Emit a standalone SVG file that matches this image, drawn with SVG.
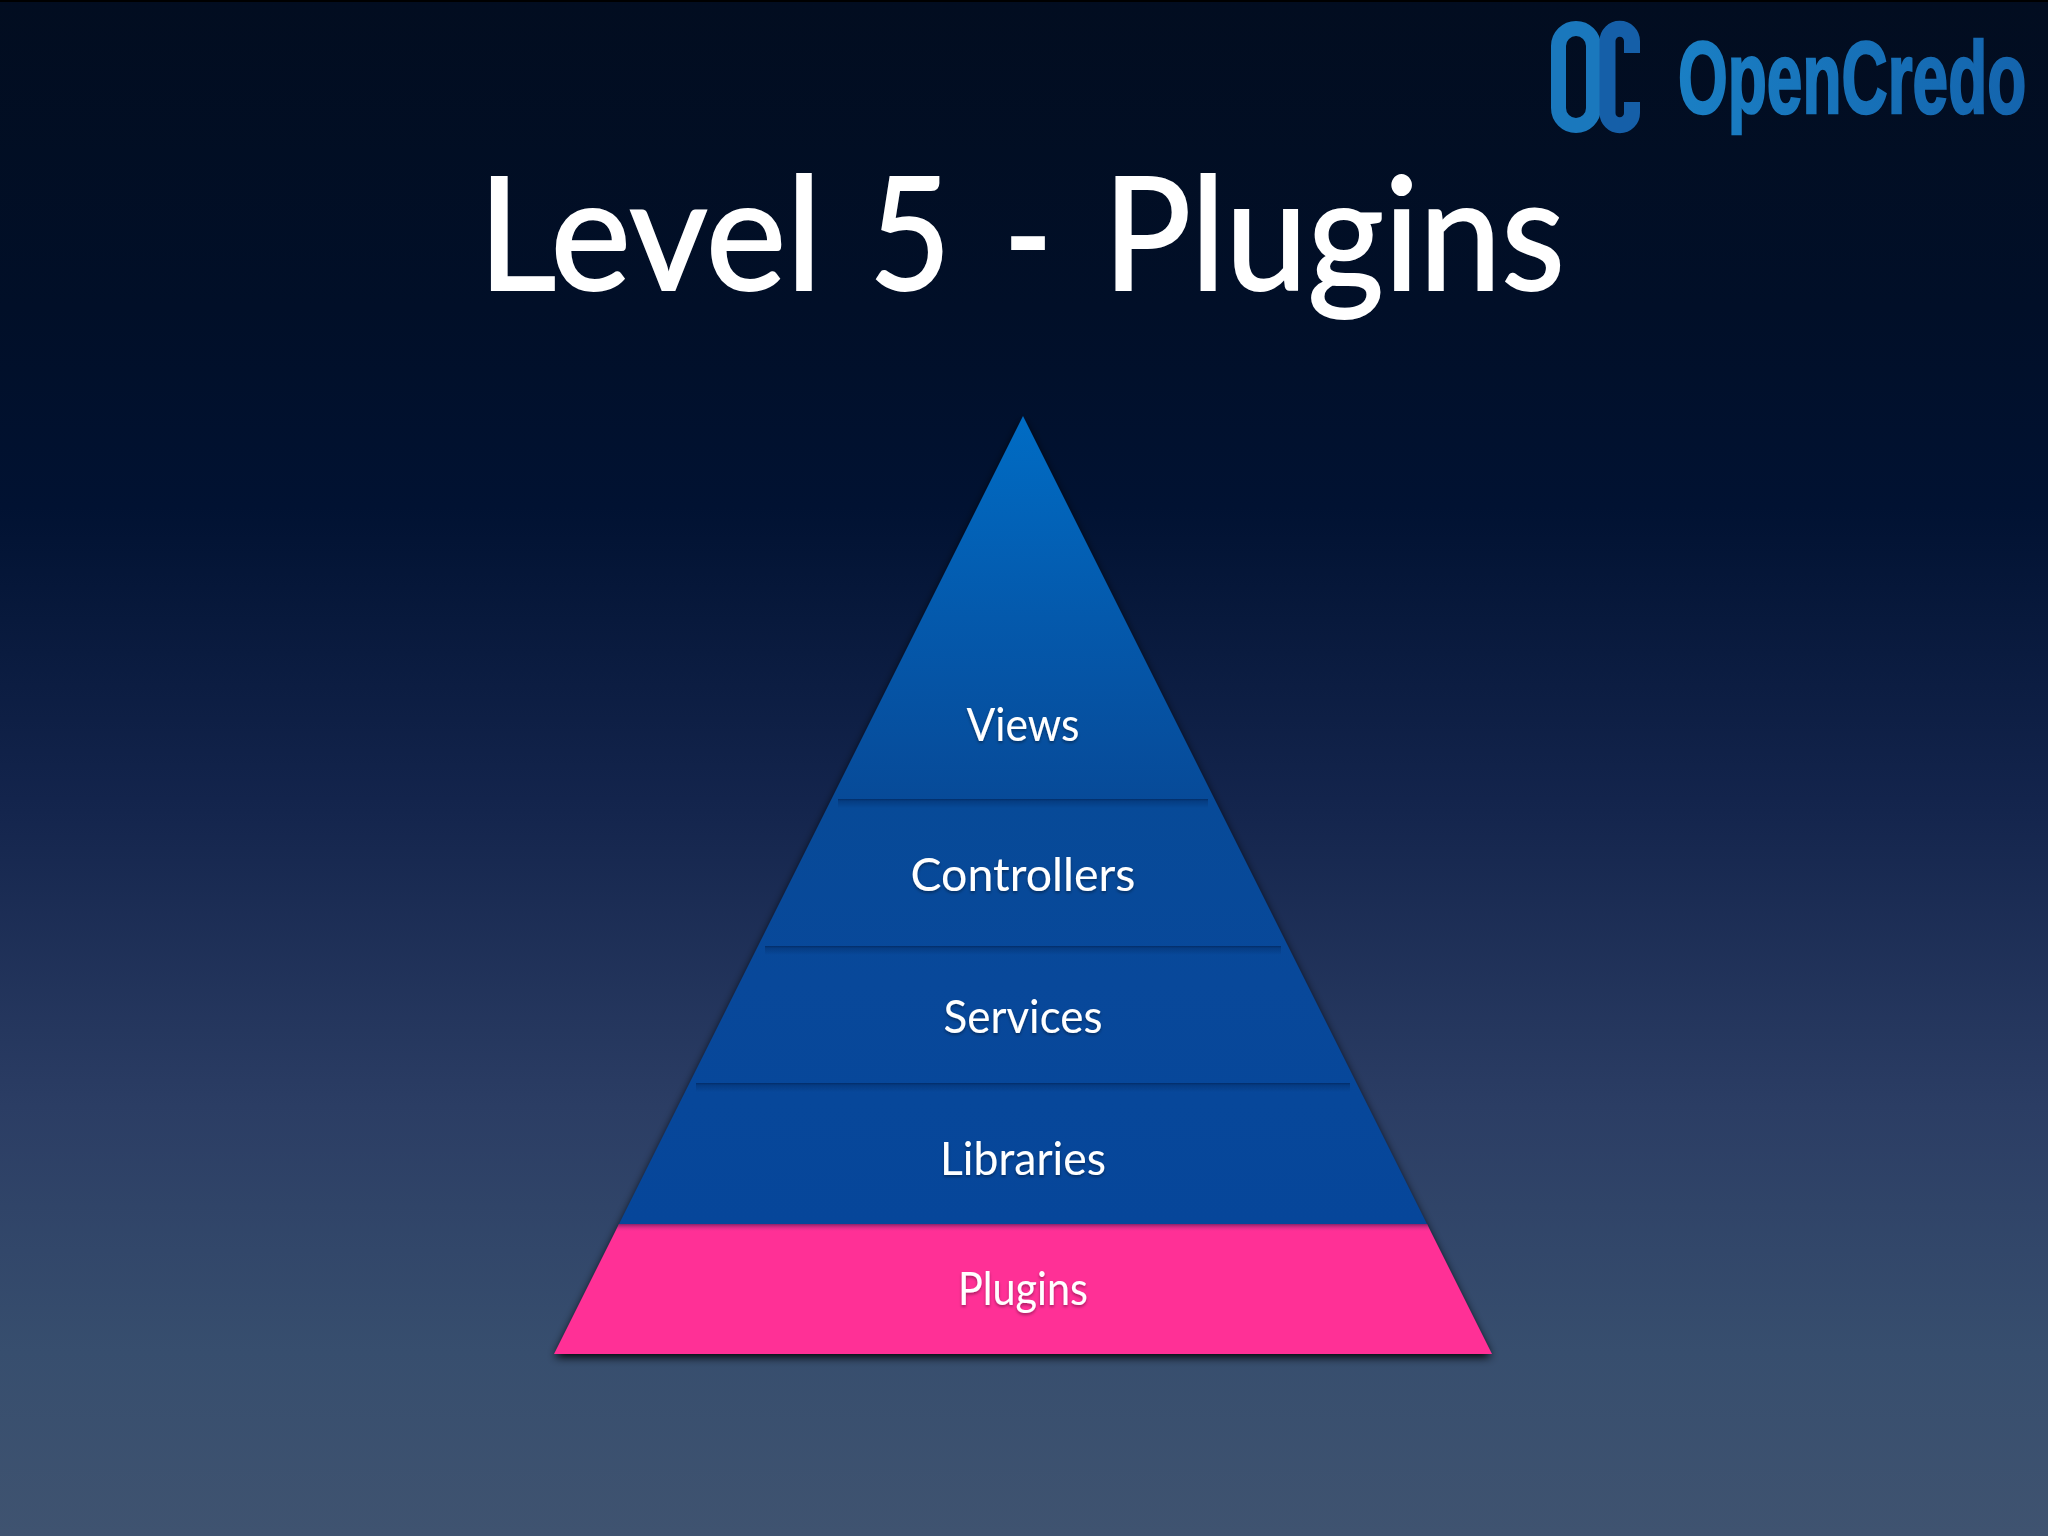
<svg xmlns="http://www.w3.org/2000/svg" width="2048" height="1536" viewBox="0 0 2048 1536">
<style>
.title{font-family:"Lato","Noto Sans",sans-serif;fill:#fff;stroke:#fff;stroke-width:2px}
.lbl{font-family:"Lato","Noto Sans",sans-serif;font-size:46px;fill:#fff;text-anchor:middle;filter:url(#ts)}
.sep{fill:url(#sepg)}
</style>
<defs>
<linearGradient id="bg" x1="0" y1="0" x2="0" y2="1536" gradientUnits="userSpaceOnUse">
<stop offset="0" stop-color="#020d20"/><stop offset=".2" stop-color="#010f28"/><stop offset=".33" stop-color="#011232"/><stop offset=".52" stop-color="#13244c"/><stop offset=".72" stop-color="#2b3d64"/><stop offset=".88" stop-color="#374e6e"/><stop offset="1" stop-color="#3f5370"/>
</linearGradient>
<linearGradient id="blue" x1="0" y1="416" x2="0" y2="1224" gradientUnits="userSpaceOnUse">
<stop offset="0" stop-color="#006cc4"/><stop offset=".25" stop-color="#0459ac"/><stop offset=".48" stop-color="#074a98"/><stop offset=".7" stop-color="#08489a"/><stop offset="1" stop-color="#06469a"/>
</linearGradient>
<linearGradient id="sepg" x1="0" y1="0" x2="0" y2="1">
<stop offset="0" stop-color="#02285f" stop-opacity=".85"/><stop offset=".25" stop-color="#032f6c" stop-opacity=".5"/><stop offset="1" stop-color="#032f6c" stop-opacity="0"/>
</linearGradient>
<linearGradient id="pinkShade" x1="0" y1="0" x2="0" y2="1">
<stop offset="0" stop-color="#4a1a50" stop-opacity=".65"/><stop offset="1" stop-color="#ff3096" stop-opacity="0"/>
</linearGradient>
<linearGradient id="logoText" x1="0" y1="0" x2="540" y2="0" gradientUnits="userSpaceOnUse">
<stop offset="0" stop-color="#1a7fc4"/><stop offset="1" stop-color="#1464ad"/>
</linearGradient>
<filter id="shadow" x="-10%" y="-10%" width="120%" height="120%">
<feDropShadow dx="0" dy="3" stdDeviation="5" flood-color="#000" flood-opacity="1"/>
</filter>
<filter id="ts" x="-10%" y="-20%" width="120%" height="140%">
<feDropShadow dx="0" dy="2" stdDeviation="1.5" flood-color="#000" flood-opacity=".35"/>
</filter>
</defs>
<rect width="2048" height="1536" fill="url(#bg)"/>
<rect width="2048" height="2" fill="#000"/>

<g id="logo">
<rect x="1558.5" y="28.5" width="35" height="97" rx="17.5" fill="none" stroke="#1a78bd" stroke-width="15"/>
<path d="M1632 53V41A12.25 12.25 0 0 0 1607.5 41V113A12.25 12.25 0 0 0 1632 113V102" fill="none" stroke="#155fa8" stroke-width="16"/>
<text transform="translate(1678 113) scale(.645 1)" x="0" y="0" font-family="'Liberation Sans',sans-serif" font-weight="700" font-size="102" fill="url(#logoText)" stroke="url(#logoText)" stroke-width="2.5" textLength="540" lengthAdjust="spacingAndGlyphs">OpenCredo</text>
</g>

<text id="title" class="title" y="290" font-size="157"><tspan x="478" textLength="344" lengthAdjust="spacingAndGlyphs">Level</tspan><tspan x="869" textLength="82" lengthAdjust="spacingAndGlyphs">5</tspan><tspan x="1004" textLength="48" lengthAdjust="spacingAndGlyphs">-</tspan><tspan x="1103" textLength="462" lengthAdjust="spacingAndGlyphs">Plugins</tspan></text>

<g id="pyramid">
<polygon points="1023,418 1491,1354 555,1354" fill="#000" filter="url(#shadow)"/>
<g id="node-views">
<polygon points="1023,416 1215,800 831,800" fill="url(#blue)"/>
<text class="lbl" x="1023" y="741" textLength="113" lengthAdjust="spacingAndGlyphs">Views</text>
</g>
<g id="node-controllers">
<polygon points="831,800 1215,800 1288.5,947 757.5,947" fill="url(#blue)"/>
<rect class="sep" x="838" y="799" width="370" height="9"/>
<text class="lbl" x="1023" y="891" textLength="225" lengthAdjust="spacingAndGlyphs">Controllers</text>
</g>
<g id="node-services">
<polygon points="757.5,947 1288.5,947 1357,1084 689,1084" fill="url(#blue)"/>
<rect class="sep" x="765" y="946" width="516" height="9"/>
<text class="lbl" x="1023" y="1033" textLength="159" lengthAdjust="spacingAndGlyphs">Services</text>
</g>
<g id="node-libraries">
<polygon points="689,1084 1357,1084 1427,1224 619,1224" fill="url(#blue)"/>
<rect class="sep" x="696" y="1083" width="654" height="9"/>
<text class="lbl" x="1023" y="1175" textLength="166" lengthAdjust="spacingAndGlyphs">Libraries</text>
</g>
<g id="node-plugins">
<polygon points="619,1224 1427,1224 1492,1354 554,1354" fill="#ff3096"/>
<polygon points="619,1224 1427,1224 1431,1232 615,1232" fill="url(#pinkShade)"/>
<text class="lbl" x="1023" y="1305" textLength="130" lengthAdjust="spacingAndGlyphs">Plugins</text>
</g>
</g>
</svg>
